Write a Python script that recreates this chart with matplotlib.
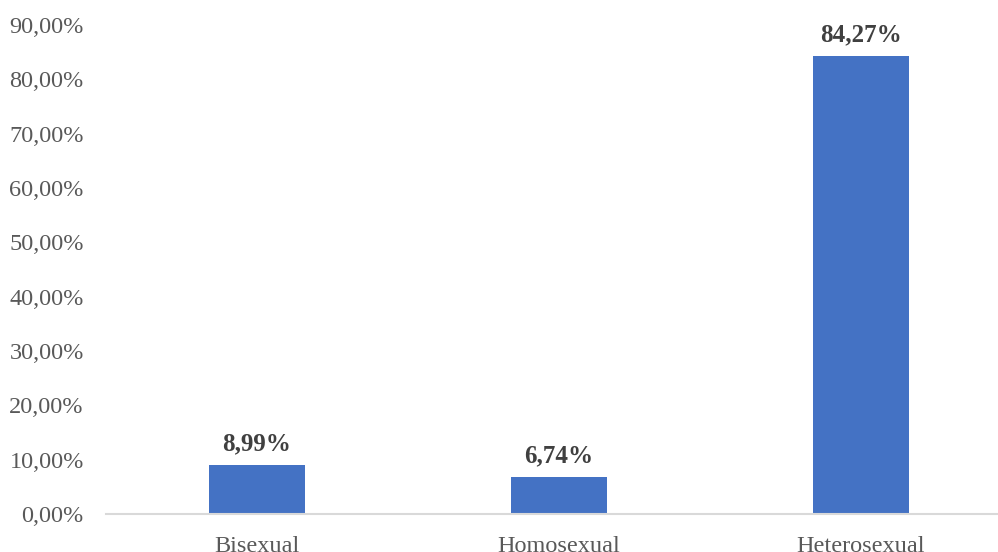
import matplotlib.pyplot as plt
from matplotlib.ticker import FuncFormatter

categories = ["Bisexual", "Homosexual", "Heterosexual"]
values = [8.99, 6.74, 84.27]
yticks = [0, 10, 20, 30, 40, 50, 60, 70, 80, 90]

plt.rcParams['font.family'] = ['Liberation Serif', 'DejaVu Serif']

W, H = 998, 552
fig = plt.figure(figsize=(W / 100, H / 100), dpi=100)
left, right, bottom, top = 106, 998, 514, 25
ax = fig.add_axes([left / W, 1 - bottom / H, (right - left) / W, (bottom - top) / H])

x = range(len(categories))
ax.bar(x, values, width=0.315, color="#4472C4", zorder=2)

for xi, v in zip(x, values):
    ax.text(xi, v + 1.8, f"{v:.2f}%".replace(".", ","), ha="center", va="bottom",
            fontsize=18, fontweight="bold", color="#404040")

ax.set_xlim(-0.5, 2.5 - 14 / 302)
ax.set_ylim(0, 90)
ax.set_yticks(yticks)
ax.yaxis.set_major_formatter(FuncFormatter(lambda v, p: f"{v:.2f}%".replace(".", ",")))
ax.set_xticks(list(x))
ax.set_xticklabels(categories)

for s in ["top", "right", "left"]:
    ax.spines[s].set_visible(False)
ax.spines["bottom"].set_color("#D9D9D9")
ax.spines["bottom"].set_linewidth(1.5)
ax.tick_params(axis="both", length=0, labelsize=17.5, colors="#595959")
ax.tick_params(axis="x", pad=16)
ax.tick_params(axis="y", pad=16)

fig.savefig("out.png", dpi=100)
